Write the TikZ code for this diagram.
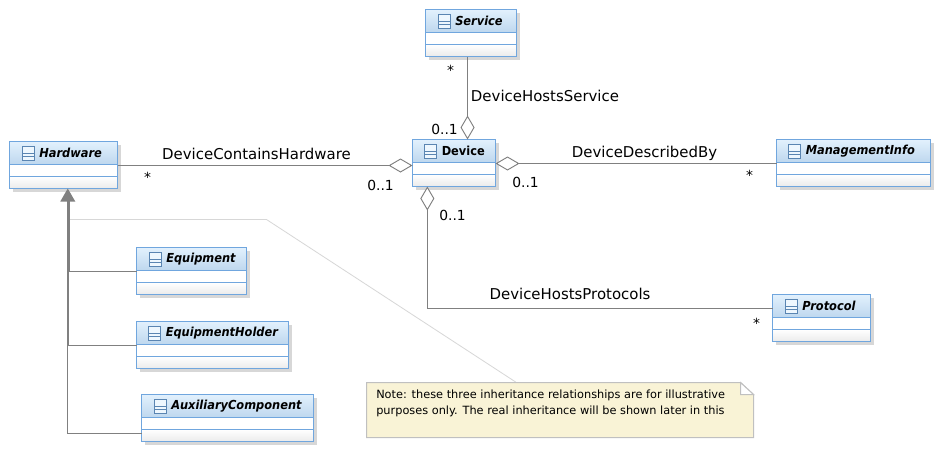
\documentclass[tikz,border=0pt]{standalone}
\usepackage{fontspec}
\setmainfont{DejaVu Sans}
\usetikzlibrary{arrows.meta,fit,calc}
\definecolor{umlborder}{RGB}{112,166,222}
\definecolor{umlhdtop}{RGB}{226,241,253}
\definecolor{umlhdbot}{RGB}{190,215,238}
\definecolor{umlline}{RGB}{128,128,128}
\definecolor{umlshadow}{RGB}{215,215,215}
\definecolor{notefill}{RGB}{249,243,214}
\definecolor{noteedge}{RGB}{192,192,192}
\definecolor{noteconn}{RGB}{215,215,215}
\newfontfamily\titlefont[FakeStretch=0.92]{DejaVu Sans}
\tikzset{
  x=0.75pt,y=-0.75pt,
  classbox/.style={inner sep=0pt,outer sep=0pt,draw=umlborder,line width=0.95pt},
  classtitle/.style={inner sep=0pt,anchor=west,font=\titlefont\fontsize{9.3}{11}\selectfont\bfseries\itshape},
  devtitle/.style={inner sep=0pt,anchor=west,font=\titlefont\fontsize{9.3}{11}\selectfont\bfseries},
  lbl/.style={inner sep=0pt,font=\fontsize{11.2}{13}\selectfont},
  mult/.style={inner sep=0pt,font=\fontsize{10.4}{13}\selectfont},
  conn/.style={draw=umlline,line width=0.8pt},
  aggr/.style={conn,{Diamond[open,fill=white,length=18pt,width=10.5pt,line width=0.7pt]}-},
  gen/.style={draw=umlline,line width=1.1pt},
  gentip/.style={fill=umlline,draw=none},
}
% #1 name #2 x1 #3 y1 #4 x2 #5 y2 #6 title left #7 style #8 title
\newcommand{\umlclass}[8]{%
  \fill[umlshadow] (#2+3,#3+3) rectangle (#4+3,#5+3);
  \fill[white] (#2,#3) rectangle (#4,#5);
  \shade[top color=umlhdtop,bottom color=umlhdbot] (#2,#3) rectangle (#4,#3+23);
  \shade[top color=white,bottom color=black!8] (#2,#3+35) rectangle (#4,#5);
  \draw[umlborder,line width=0.95pt] (#2,#3+23) -- (#4,#3+23) (#2,#3+35) -- (#4,#3+35);
  \node[classbox,fit={(#2,#3) (#4,#5)}] (#1) {};
  \draw[draw=umlborder!80!black,line width=0.7pt,fill=umlhdtop!60!white] (#6-17,#3+4.5) rectangle (#6-5,#3+18.5);
  \draw[draw=umlborder!80!black,line width=0.7pt] (#6-17,#3+11.5) -- (#6-5,#3+11.5) (#6-17,#3+15) -- (#6-5,#3+15);
  \node[#7] (#1-t) at (#6,#3+11.5) {#8};
}
\begin{document}
\begin{tikzpicture}
\useasboundingbox (0,0) rectangle (945,457);
\fill[white] (0,0) rectangle (945,457);

% note connector
\coordinate (nbend1) at (68,219.5);
\coordinate (nbend2) at (266.5,219.5);
\node[inner sep=0pt,fit={(366.5,382.5) (753.5,437.5)}] (note) {};
\draw[noteconn,line width=0.6pt] (nbend1) -- (nbend2) -- ([xshift=-33pt]note.north);

\umlclass{hw}{9.5}{141.5}{117.5}{188.5}{39}{classtitle}{Hardware}
\umlclass{eq}{136.5}{247.5}{246.5}{294.5}{166}{classtitle}{Equipment}
\umlclass{eh}{136.5}{321.5}{288.5}{368.5}{165.5}{classtitle}{EquipmentHolder}
\umlclass{ac}{141.5}{394.5}{313.5}{441.5}{171}{classtitle}{AuxiliaryComponent}
\umlclass{sv}{425.5}{9.5}{516.5}{56.5}{455}{classtitle}{Service}
\umlclass{dv}{412.5}{139.5}{495.5}{186.5}{441.5}{devtitle}{Device}
\umlclass{mi}{776.5}{139.5}{930.5}{186.5}{805.5}{classtitle}{ManagementInfo}
\umlclass{pr}{772.5}{294.5}{870.5}{341.5}{802}{classtitle}{Protocol}

% note
\fill[notefill,draw=noteedge,line width=0.75pt] (366.5,382.5) -- (740.5,382.5) -- (753.5,394.5) -- (753.5,437.5) -- (366.5,437.5) -- cycle;
\draw[noteedge,line width=0.75pt,fill=white] (740.5,382.5) -- (740.5,394.5) -- (753.5,394.5) -- cycle;
\node[inner sep=0pt,anchor=north west,align=left,font=\fontsize{8.5}{12}\selectfont] (notetext) at (376,390) {Note: these three inheritance relationships are for illustrative\\purposes only. The real inheritance will be shown later in this};

% associations
\draw[aggr] ([yshift=-0.375pt]dv.west |- hw.east) -- ([yshift=-0.375pt]hw.east);
\draw[aggr] ([yshift=-0.375pt]dv.east) -- ([yshift=-0.375pt]mi.west);
\draw[aggr] ([xshift=-2.6pt]sv.south |- dv.north) -- ([xshift=-2.6pt]sv.south);
\draw[aggr] ([xshift=-20pt]dv.south) |- ([yshift=7.3pt]pr.west);

% generalisations
\draw[gen] (eq.west |- 0,271.5) -- (69,271.5) -- (69,200);
\draw[gen] (eh.west |- 0,345.5) -- (68,345.5) -- (68,200);
\draw[gen] (ac.west |- 0,433.5) -- (67.5,433.5) -- (67.5,200);
\fill[gentip] ([xshift=3.2pt]hw.south) -- ++(7.5,13) -- ++(-15,0) -- cycle;

% labels
\node[lbl] (l1) at (256.5,154) {DeviceContainsHardware};
\node[mult] (l2) at (147.5,177) {*};
\node[mult] (l3) at (380.5,185) {0..1};
\node[mult] (l4) at (444.5,129) {0..1};
\node[mult] (l5) at (450.5,70) {*};
\node[lbl] (l6) at (545,96) {DeviceHostsService};
\node[mult] (l7) at (525.5,182) {0..1};
\node[lbl] (l8) at (644.5,153) {DeviceDescribedBy};
\node[mult] (l9) at (749.5,175) {*};
\node[mult] (l10) at (452.5,215) {0..1};
\node[lbl] (l11) at (570,294) {DeviceHostsProtocols};
\node[mult] (l12) at (756.5,323) {*};
\end{tikzpicture}
\end{document}
